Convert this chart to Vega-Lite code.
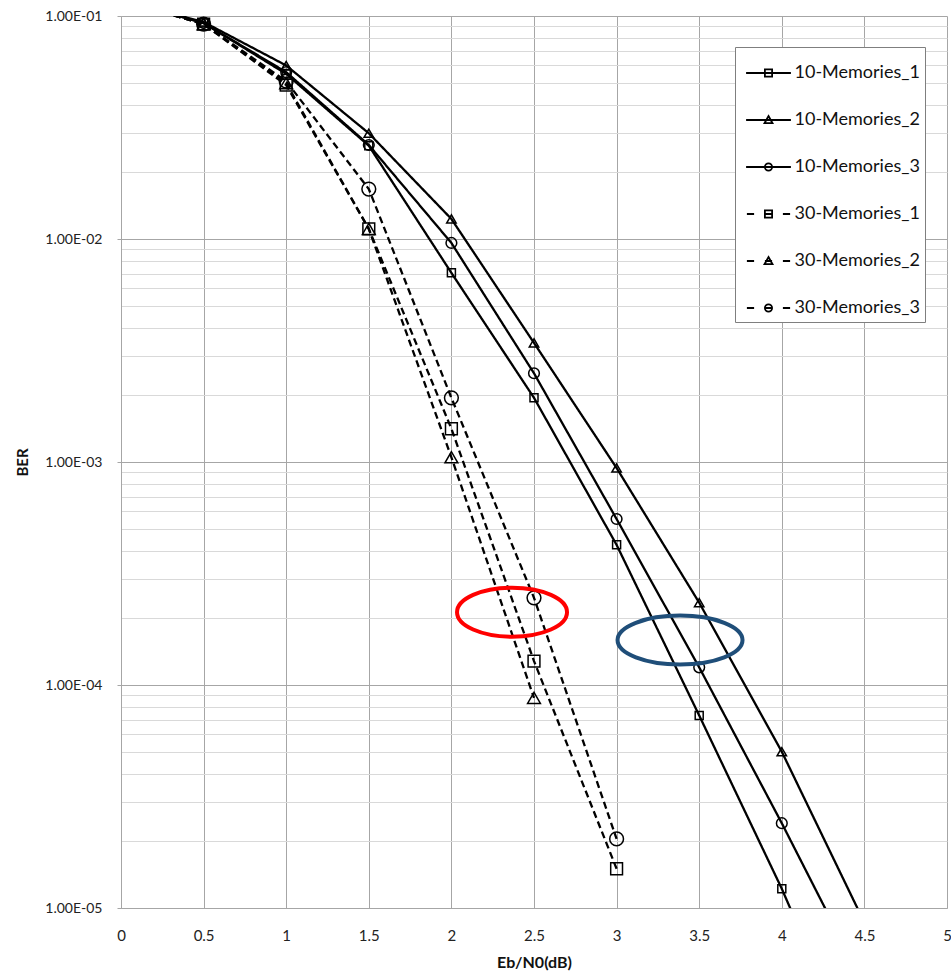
{
  "$schema": "https://vega.github.io/schema/vega-lite/v6.json",
  "width": 826,
  "height": 892,
  "autosize": {"type": "none"},
  "padding": {"left": 121, "top": 16, "right": 4, "bottom": 69},
  "background": "white",
  "config": {"font": "Lato", "view": {"stroke": null}},
  "datasets": {
    "ber": [
      {"series": "10-Memories_1", "x": 0, "ber": 0.118},
      {"series": "10-Memories_1", "x": 0.5, "ber": 0.093},
      {"series": "10-Memories_1", "x": 1, "ber": 0.055},
      {"series": "10-Memories_1", "x": 1.5, "ber": 0.0262},
      {"series": "10-Memories_1", "x": 2, "ber": 0.00705},
      {"series": "10-Memories_1", "x": 2.5, "ber": 0.00194},
      {"series": "10-Memories_1", "x": 3, "ber": 0.000425},
      {"series": "10-Memories_1", "x": 3.5, "ber": 0.000073},
      {"series": "10-Memories_1", "x": 4, "ber": 0.0000122},
      {"series": "10-Memories_1", "x": 4.5, "ber": 0.0000017},
      {"series": "10-Memories_2", "x": 0, "ber": 0.118},
      {"series": "10-Memories_2", "x": 0.5, "ber": 0.094},
      {"series": "10-Memories_2", "x": 1, "ber": 0.06},
      {"series": "10-Memories_2", "x": 1.5, "ber": 0.0298},
      {"series": "10-Memories_2", "x": 2, "ber": 0.0123},
      {"series": "10-Memories_2", "x": 2.5, "ber": 0.00342},
      {"series": "10-Memories_2", "x": 3, "ber": 0.00094},
      {"series": "10-Memories_2", "x": 3.5, "ber": 0.000234},
      {"series": "10-Memories_2", "x": 4, "ber": 0.0000502},
      {"series": "10-Memories_2", "x": 4.5, "ber": 0.0000086},
      {"series": "10-Memories_3", "x": 0, "ber": 0.118},
      {"series": "10-Memories_3", "x": 0.5, "ber": 0.093},
      {"series": "10-Memories_3", "x": 1, "ber": 0.056},
      {"series": "10-Memories_3", "x": 1.5, "ber": 0.0264},
      {"series": "10-Memories_3", "x": 2, "ber": 0.0096},
      {"series": "10-Memories_3", "x": 2.5, "ber": 0.0025},
      {"series": "10-Memories_3", "x": 3, "ber": 0.000555},
      {"series": "10-Memories_3", "x": 3.5, "ber": 0.00012},
      {"series": "10-Memories_3", "x": 4, "ber": 0.000024},
      {"series": "10-Memories_3", "x": 4.5, "ber": 0.0000045},
      {"series": "30-Memories_1", "x": 0, "ber": 0.118},
      {"series": "30-Memories_1", "x": 0.5, "ber": 0.092},
      {"series": "30-Memories_1", "x": 1, "ber": 0.049},
      {"series": "30-Memories_1", "x": 1.5, "ber": 0.0111},
      {"series": "30-Memories_1", "x": 2, "ber": 0.00141},
      {"series": "30-Memories_1", "x": 2.5, "ber": 0.000128},
      {"series": "30-Memories_1", "x": 3, "ber": 0.000015},
      {"series": "30-Memories_2", "x": 0, "ber": 0.118},
      {"series": "30-Memories_2", "x": 0.5, "ber": 0.092},
      {"series": "30-Memories_2", "x": 1, "ber": 0.05},
      {"series": "30-Memories_2", "x": 1.5, "ber": 0.0111},
      {"series": "30-Memories_2", "x": 2, "ber": 0.00105},
      {"series": "30-Memories_2", "x": 2.5, "ber": 0.0000875},
      {"series": "30-Memories_3", "x": 0, "ber": 0.118},
      {"series": "30-Memories_3", "x": 0.5, "ber": 0.092},
      {"series": "30-Memories_3", "x": 1, "ber": 0.051},
      {"series": "30-Memories_3", "x": 1.5, "ber": 0.01675},
      {"series": "30-Memories_3", "x": 2, "ber": 0.00194},
      {"series": "30-Memories_3", "x": 2.5, "ber": 0.000246},
      {"series": "30-Memories_3", "x": 3, "ber": 0.0000204}
    ],
    "red": [{"x": 2.367, "ber": 0.000212}],
    "blue": [{"x": 3.384, "ber": 0.000159}]
  },
  "encoding": {
    "x": {
      "field": "x",
      "type": "quantitative",
      "scale": {"domain": [0, 5], "nice": false, "zero": false},
      "axis": {
        "title": "Eb/N0(dB)",
        "values": [0, 0.5, 1, 1.5, 2, 2.5, 3, 3.5, 4, 4.5, 5],
        "format": "~g",
        "grid": true,
        "gridColor": "#a6a6a6",
        "gridWidth": 1,
        "domainColor": "#a6a6a6",
        "ticks": false,
        "labelFont": "Lato",
        "labelFontSize": 15,
        "labelColor": "#222222",
        "labelPadding": 20,
        "labelFlush": false,
        "titleFont": "Lato",
        "titleFontSize": 16,
        "titleFontWeight": "bold",
        "titleColor": "#111111",
        "titlePadding": 11
      }
    },
    "y": {
      "field": "ber",
      "type": "quantitative",
      "scale": {"type": "log", "domain": [0.00001, 0.1], "nice": false},
      "axis": {
        "title": "BER",
        "values": [0.00001, 0.00002, 0.00003, 0.00004, 0.00005, 0.00006, 0.00007, 0.00008, 0.00009,
                   0.0001, 0.0002, 0.0003, 0.0004, 0.0005, 0.0006, 0.0007, 0.0008, 0.0009,
                   0.001, 0.002, 0.003, 0.004, 0.005, 0.006, 0.007, 0.008, 0.009,
                   0.01, 0.02, 0.03, 0.04, 0.05, 0.06, 0.07, 0.08, 0.09, 0.1],
        "labelExpr": "abs(log(datum.value)/LN10 - round(log(datum.value)/LN10)) < 0.000001 ? '1.00E-0' + round(-log(datum.value)/LN10) : ''",
        "grid": true,
        "gridColor": {"condition": {"test": "abs(log(datum.value)/LN10 - round(log(datum.value)/LN10)) < 0.000001", "value": "#a6a6a6"}, "value": "#d9d9d9"},
        "tickOpacity": {"condition": {"test": "abs(log(datum.value)/LN10 - round(log(datum.value)/LN10)) < 0.000001", "value": 1}, "value": 0},
        "tickColor": "#a6a6a6",
        "tickSize": 4,
        "domainColor": "#a6a6a6",
        "labelFont": "Lato",
        "labelFontSize": 14,
        "labelColor": "#222222",
        "labelPadding": 15,
        "labelFlush": false,
        "labelOverlap": false,
        "titleFont": "Lato",
        "titleFontSize": 15,
        "titleFontWeight": "bold",
        "titleColor": "#111111",
        "titlePadding": 14
      }
    }
  },
  "layer": [
    {
      "data": {"name": "ber"},
      "mark": {"type": "line", "color": "black", "strokeWidth": 2.3, "clip": true},
      "encoding": {
        "strokeDash": {
          "field": "series",
          "type": "nominal",
          "scale": {
            "domain": ["10-Memories_1", "10-Memories_2", "10-Memories_3", "30-Memories_1", "30-Memories_2", "30-Memories_3"],
            "range": [[1, 0], [1, 0], [1, 0], [7, 4], [7, 4], [7, 4]]
          },
          "legend": null
        }
      }
    },
    {
      "data": {"name": "ber"},
      "mark": {"type": "point", "color": "black", "filled": false, "strokeWidth": 1.5, "opacity": 1, "clip": true},
      "encoding": {
        "shape": {
          "field": "series",
          "type": "nominal",
          "scale": {
            "domain": ["10-Memories_1", "10-Memories_2", "10-Memories_3", "30-Memories_1", "30-Memories_2", "30-Memories_3"],
            "range": ["square", "triangle-up", "circle", "square", "triangle-up", "circle"]
          },
          "legend": null
        },
        "size": {
          "field": "series",
          "type": "nominal",
          "scale": {
            "domain": ["10-Memories_1", "10-Memories_2", "10-Memories_3", "30-Memories_1", "30-Memories_2", "30-Memories_3"],
            "range": [64, 190, 133, 150, 169, 115]
          },
          "legend": null
        }
      }
    },
    {
      "data": {"name": "red"},
      "mark": {"type": "point", "shape": "M-1,0A1,0.445,0,1,1,1,0A1,0.445,0,1,1,-1,0Z", "size": 12100, "filled": false, "color": "#ff0000", "strokeWidth": 4, "opacity": 1}
    },
    {
      "data": {"name": "blue"},
      "mark": {"type": "point", "shape": "M-1,0A1,0.392,0,1,1,1,0A1,0.392,0,1,1,-1,0Z", "size": 15625, "filled": false, "color": "#1f4e79", "strokeWidth": 4, "opacity": 1}
    },
    {
      "data": {"name": "ber"},
      "transform": [{"filter": "false"}],
      "mark": {"type": "point", "color": "black", "filled": false, "strokeWidth": 2, "size": 1600, "opacity": 1},
      "encoding": {
        "shape": {
          "field": "series",
          "type": "nominal",
          "scale": {
            "domain": ["10-Memories_1", "10-Memories_2", "10-Memories_3", "30-Memories_1", "30-Memories_2", "30-Memories_3"],
            "range": [
              "M-1.12,0H1.12M-0.18,-0.18H0.18V0.18H-0.18Z",
              "M-1.12,0H1.12M0,-0.2L0.2,0.16L-0.2,0.16Z",
              "M-1.12,0H1.12M-0.18,0A0.18,0.18,0,1,1,0.18,0A0.18,0.18,0,1,1,-0.18,0Z",
              "M-1.08,0H-0.72M-0.18,0H0.18M0.72,0H1.08M-0.18,-0.18H0.18V0.18H-0.18Z",
              "M-1.08,0H-0.72M-0.18,0H0.18M0.72,0H1.08M0,-0.2L0.2,0.16L-0.2,0.16Z",
              "M-1.08,0H-0.72M-0.18,0H0.18M0.72,0H1.08M-0.18,0A0.18,0.18,0,1,1,0.18,0A0.18,0.18,0,1,1,-0.18,0Z"
            ]
          },
          "legend": {
            "orient": "none",
            "legendX": 614,
            "legendY": 31,
            "title": null,
            "padding": 5,
            "rowPadding": 17,
            "symbolSize": 1600,
            "symbolOffset": 7.5,
            "symbolStrokeWidth": 1.8,
            "symbolStrokeColor": "black",
            "symbolFillColor": "transparent",
            "labelFont": "Lato",
            "labelFontSize": 18,
            "labelColor": "#111111",
            "labelOffset": 5,
            "labelLimit": 300,
            "strokeColor": "#7f7f7f",
            "fillColor": "white",
            "cornerRadius": 0
          }
        }
      }
    }
  ],
  "resolve": {"scale": {"shape": "independent", "size": "independent", "strokeDash": "independent"}, "legend": {"shape": "independent"}}
}
